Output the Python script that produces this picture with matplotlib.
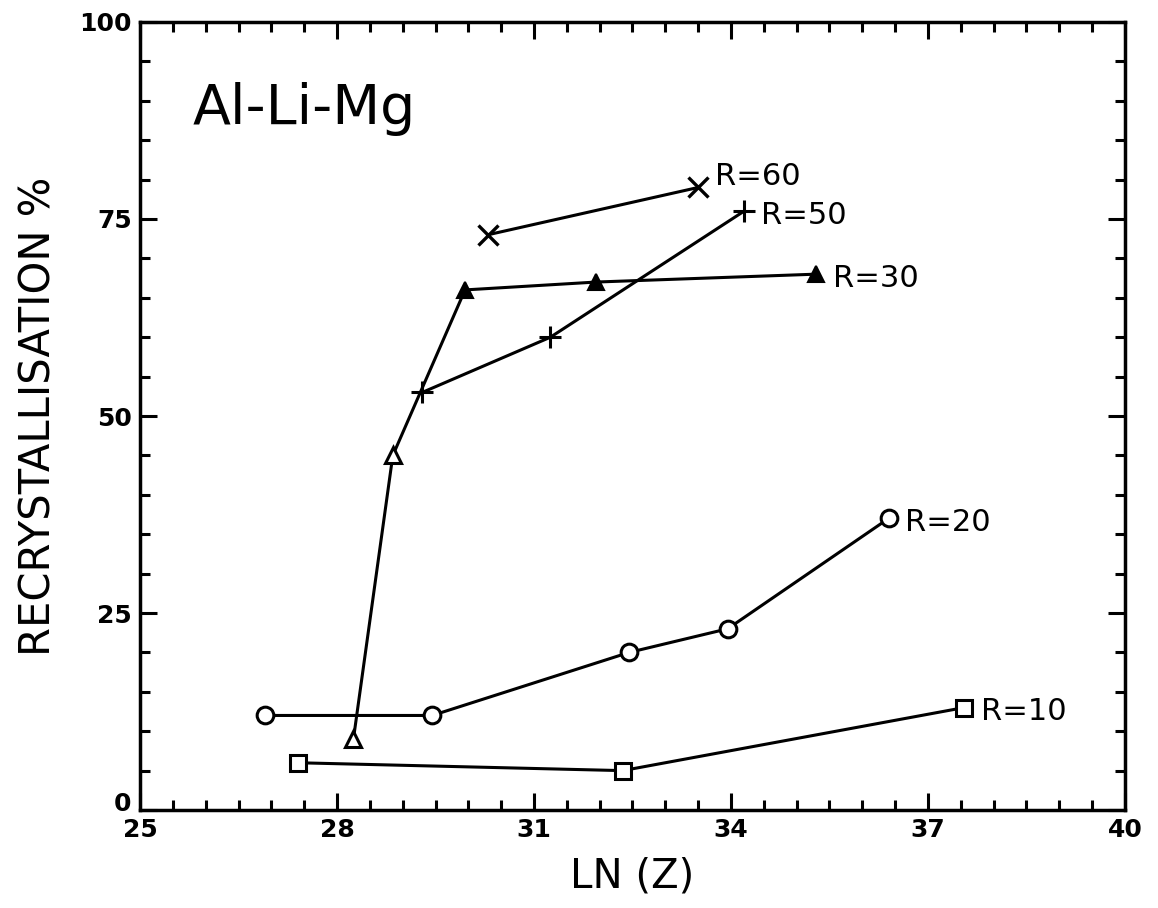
import matplotlib
matplotlib.use("Agg")
import matplotlib.pyplot as plt
import matplotlib.transforms as mtransforms
from matplotlib.ticker import MultipleLocator

# Recrystallisation fraction versus ln(Z) for several reductions R (%)
r10_x = [27.4, 32.35, 37.55]
r10_y = [6, 5, 13]

r20_x = [26.9, 29.45, 32.45, 33.95, 36.4]
r20_y = [12, 12, 20, 23, 37]

r30_x = [28.25, 28.85, 29.95, 31.95, 35.3]
r30_y = [9, 45, 66, 67, 68]

r50_x = [29.3, 31.25, 34.2]
r50_y = [53, 60, 76]

r60_x = [30.3, 33.5]
r60_y = [73, 79]

series_labels = ["R=10", "R=20", "R=30", "R=50", "R=60"]

x_ticks = [25, 28, 31, 34, 37, 40]
y_ticks = [0, 25, 50, 75, 100]

fig = plt.figure(figsize=(11.58, 9.08), dpi=100)
ax = fig.add_axes([0.1209, 0.1079, 0.8506, 0.8679])

lw = 2.2
ax.plot(r10_x, r10_y, color="black", lw=lw, marker="s", ms=11,
        mfc="white", mec="black", mew=2.2)
ax.plot(r20_x, r20_y, color="black", lw=lw, marker="o", ms=12,
        mfc="white", mec="black", mew=2.2)
ax.plot(r30_x, r30_y, color="black", lw=lw)
ax.plot(r30_x[:2], r30_y[:2], ls="none", marker="^", ms=12,
        mfc="white", mec="black", mew=2.2)
ax.plot(r30_x[2:], r30_y[2:], ls="none", marker="^", ms=12,
        mfc="black", mec="black", mew=1.5)
ax.plot(r50_x, r50_y, color="black", lw=lw, marker="+", ms=16, mew=2.2)
ax.plot(r60_x, r60_y, color="black", lw=lw, marker="x", ms=14, mew=2.4)

# series labels beside the last point of each curve (offsets in points)
ends = [(r10_x[-1], r10_y[-1]), (r20_x[-1], r20_y[-1]), (r30_x[-1], r30_y[-1]),
        (r50_x[-1], r50_y[-1]), (r60_x[-1], r60_y[-1])]
offsets = [(12, -3), (12, -3), (12, -3), (12, -3), (12, 8)]
for lab, (ex, ey), off in zip(series_labels, ends, offsets):
    ax.annotate(lab, (ex, ey), xytext=off, textcoords="offset points",
                fontsize=22, va="center", ha="left")

ax.text(25.8, 89, "Al-Li-Mg", fontsize=40, va="center", ha="left")

ax.set_xlim(25, 40)
ax.set_ylim(0, 100)
ax.set_xticks(x_ticks)
ax.set_yticks(y_ticks)
ax.xaxis.set_minor_locator(MultipleLocator(0.5))
ax.yaxis.set_minor_locator(MultipleLocator(5))
ax.tick_params(which="both", direction="in", top=True, right=True,
               width=2.2, labelsize=18, pad=6)
ax.tick_params(which="major", length=12)
ax.tick_params(which="minor", length=7)
for lbl in ax.get_xticklabels() + ax.get_yticklabels():
    lbl.set_fontweight("bold")
for sp in ax.spines.values():
    sp.set_linewidth(2.5)

# lift the "0" on the y axis a little so it clears the "25" below it
zero_lbl = ax.yaxis.get_major_ticks()[0].label1
zero_lbl.set_transform(zero_lbl.get_transform() +
                       mtransforms.ScaledTranslation(0, 6 / 72, fig.dpi_scale_trans))

ax.set_xlabel("LN (Z)", fontsize=29, labelpad=10)
ax.set_ylabel("RECRYSTALLISATION %", fontsize=30, labelpad=14)

fig.savefig("out.png", dpi=100)
